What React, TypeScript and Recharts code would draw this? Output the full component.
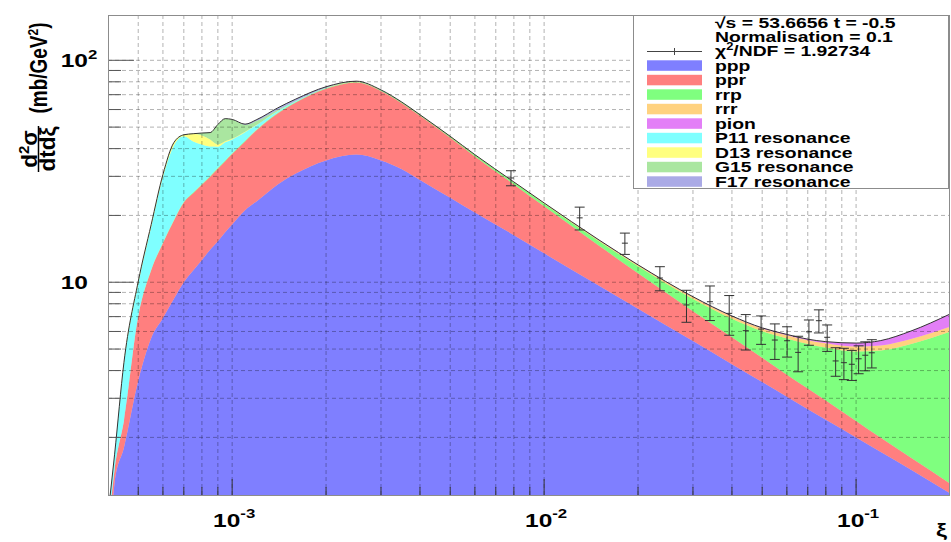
import {
  Area,
  ComposedChart,
  ErrorBar,
  Line,
  Scatter,
  XAxis,
  YAxis,
} from "recharts";

// Model components, sampled in xi (d2sigma/dtdxi, mb/GeV^2)
const XI = [
  0.000405, 0.00042, 0.00045, 0.0005, 0.00055, 0.0006, 0.00065, 0.0007, 0.00075, 0.0008,
  0.00085, 0.0009, 0.00095, 0.001, 0.0011, 0.0012, 0.0014, 0.0016, 0.002, 0.0025,
  0.003, 0.0035, 0.004, 0.005, 0.006, 0.008, 0.01, 0.015, 0.02, 0.03,
  0.04, 0.05, 0.06, 0.07, 0.08, 0.1, 0.12, 0.15, 0.2,
];
const PPP = [
  0.6, 1.25, 1.8, 3.6, 5.6, 6.9, 8.4, 10.0, 11.3, 12.6,
  14.0, 15.3, 16.8, 18.2, 21.1, 23.2, 27.6, 30.9, 35.4, 37.6,
  35.4, 32.3, 28.9, 24.0, 20.6, 16.3, 13.5, 9.65, 7.6, 5.43,
  4.27, 3.55, 3.05, 2.68, 2.4, 2.0, 1.72, 1.43, 1.12,
];
const PPR = [
  0.3, 0.18, 0.58, 3.4, 5.7, 8.1, 10.5, 12.9, 13.9, 14.9,
  15.9, 17.2, 18.3, 19.6, 22.0, 25.3, 30.0, 33.6, 39.0, 41.9,
  37.4, 31.8, 27.3, 20.8, 16.3, 11.3, 8.5, 4.95, 3.38, 1.98,
  1.38, 1.02, 0.78, 0.64, 0.53, 0.37, 0.27, 0.19, 0.12,
];
const RRP = [
  0, 0, 0, 0.02, 0.05, 0.08, 0.1, 0.12, 0.14, 0.16,
  0.18, 0.2, 0.22, 0.24, 0.27, 0.3, 0.33, 0.36, 0.4, 0.42,
  0.44, 0.46, 0.48, 0.5, 0.52, 0.55, 0.6, 0.72, 0.82, 1.0,
  1.2, 1.45, 1.75, 1.95, 2.15, 2.5, 2.93, 3.65, 4.74,
];
const RRR = [
  0, 0, 0, 0.01, 0.02, 0.03, 0.04, 0.05, 0.05, 0.06,
  0.06, 0.07, 0.07, 0.08, 0.08, 0.09, 0.1, 0.1, 0.1, 0.1,
  0.11, 0.11, 0.12, 0.12, 0.13, 0.13, 0.14, 0.15, 0.15, 0.16,
  0.16, 0.17, 0.19, 0.21, 0.23, 0.26, 0.27, 0.28, 0.32,
];
const PION = [
  0, 0, 0, 0, 0, 0, 0, 0, 0, 0,
  0, 0, 0, 0, 0, 0, 0, 0, 0, 0,
  0, 0.01, 0.01, 0.015, 0.02, 0.02, 0.025, 0.03, 0.03, 0.035,
  0.04, 0.04, 0.05, 0.06, 0.09, 0.19, 0.27, 0.48, 0.89,
];
const P11 = [
  0.15, 0.25, 1.88, 2.8, 6.3, 14.7, 22.2, 22.4, 17.7, 14.0,
  10.7, 8.0, 7.3, 5.9, 4.0, 2.2, 0.9, 0.4, 0.2, 0.1,
  0.05, 0, 0, 0, 0, 0, 0, 0, 0, 0,
  0, 0, 0, 0, 0, 0, 0, 0, 0,
];
const D13 = [
  0, 0, 0.1, 0.25, 0.5, 0.8, 1.3, 0.7, 3.6, 4.1,
  3.1, 1.0, 0.5, 0.3, 0.2, 0.1, 0.1, 0.05, 0, 0,
  0, 0, 0, 0, 0, 0, 0, 0, 0, 0,
  0, 0, 0, 0, 0, 0, 0, 0, 0,
];
const G15 = [
  0, 0, 0, 0, 0, 0, 0, 0, 0, 1.2,
  3.3, 9.6, 11.4, 9.8, 3.6, 2.2, 0.9, 0.4, 0.2, 0.1,
  0, 0, 0, 0, 0, 0, 0, 0, 0, 0,
  0, 0, 0, 0, 0, 0, 0, 0, 0,
];
const F17 = [
  0, 0, 0, 0, 0, 0, 0, 0, 0, 0,
  0, 0, 0, 0.05, 0.3, 0.7, 1.1, 1.1, 0.7, 0.3,
  0.15, 0.1, 0.05, 0, 0, 0, 0, 0, 0, 0,
  0, 0, 0, 0, 0, 0, 0, 0, 0,
];

// Measured points with statistical errors
const DATA_XI = [
  0.00783, 0.013, 0.01815, 0.0235, 0.0286, 0.034, 0.0392, 0.0443, 0.0496, 0.0549,
  0.0601, 0.0652, 0.0706, 0.076, 0.0808, 0.086, 0.0914, 0.0969, 0.1019, 0.107, 0.1123,
];
const DATA_SIGMA = [
  29.5, 19.5, 15.0, 10.45, 7.9, 8.17, 7.24, 6.05, 6.15, 5.49,
  5.45, 4.83, 5.98, 6.71, 5.65, 4.42, 4.34, 4.27, 4.52, 4.69, 4.81,
];
const DATA_ERR = [
  2.3, 2.3, 1.65, 1.3, 1.3, 1.45, 1.47, 1.1, 0.9, 1.0,
  0.85, 0.88, 0.78, 0.8, 0.77, 0.65, 0.7, 0.66, 0.65, 0.7, 0.7,
];

const X_TICKS = [
  0.0005, 0.0006, 0.0007, 0.0008, 0.0009, 0.001,
  0.002, 0.003, 0.004, 0.005, 0.006, 0.007, 0.008, 0.009, 0.01,
  0.02, 0.03, 0.04, 0.05, 0.06, 0.07, 0.08, 0.09, 0.1,
];
const Y_TICKS = [2, 3, 4, 5, 6, 7, 8, 9, 10, 20, 30, 40, 50, 60, 70, 80, 90, 100];

const SERIES_KEYS = ["ppp", "ppr", "rrp", "rrr", "pion", "p11", "d13", "g15", "f17"];
const SERIES_NAMES = [
  "ppp", "ppr", "rrp", "rrr", "pion",
  "P11 resonance", "D13 resonance", "G15 resonance", "F17 resonance",
];
// base colours, filled at half opacity
const SERIES_COLORS = [
  "#0000ff", "#ff0000", "#00ff00", "#ffa500", "#c800f0",
  "#00ffff", "#ffff00", "#55cd41", "#5555cd",
];
const SERIES_VALUES = [PPP, PPR, RRP, RRR, PION, P11, D13, G15, F17];

const W = 951;
const H = 542;
const PLOT_LEFT = 108;
const PLOT_TOP = 15;
const PLOT_RIGHT = 950;
const PLOT_BOTTOM = 495;
const X_DOMAIN = [0.0004, 0.2];
const Y_DOMAIN = [1.1, 160];
const FONT = "'Liberation Sans', Arial, Helvetica, sans-serif";
const STRETCH = 1.29;
const FILL_ALPHA = 0.5;
const FLOOR = 0.1; // below the y range, the lowest band starts here and is clipped
const GRID = { stroke: "#000", strokeOpacity: 0.3, strokeDasharray: "4 3" };

// each band is drawn as a [low, high] range on top of the ones below it
const rows = XI.map((xi, i) => {
  const row: Record<string, number | number[]> = { xi };
  let acc = 0;
  SERIES_KEYS.forEach((key, s) => {
    const v = SERIES_VALUES[s][i];
    row[key] = [s === 0 ? FLOOR : acc, acc + v];
    acc += v;
  });
  row.total = acc;
  return row;
});

const points = DATA_XI.map((xi, i) => ({ xi, sigma: DATA_SIGMA[i], err: DATA_ERR[i] }));

function decade(v: number): number | null {
  const e = Math.log10(v);
  const r = Math.round(e);
  return Math.abs(e - r) < 1e-6 ? r : null;
}

// frame geometry for the grid overlay, same log mapping as the axes
function gridX(v: number): number {
  const [a, b] = X_DOMAIN.map(Math.log10);
  return PLOT_LEFT + ((Math.log10(v) - a) / (b - a)) * (PLOT_RIGHT - PLOT_LEFT);
}
function gridY(v: number): number {
  const [a, b] = Y_DOMAIN.map(Math.log10);
  return PLOT_BOTTOM - ((Math.log10(v) - a) / (b - a)) * (PLOT_BOTTOM - PLOT_TOP);
}

function XTick(props: any) {
  const { x, payload } = props;
  const exp = decade(payload.value);
  if (exp === null) return <g />;
  return (
    <text
      transform={`translate(${x + 2} 527) scale(${STRETCH} 1)`}
      textAnchor="middle"
      fontFamily={FONT}
      fontWeight="bold"
      fill="#000"
    >
      <tspan fontSize={19}>10</tspan>
      <tspan fontSize={13} dy={-9}>
        {exp}
      </tspan>
    </text>
  );
}

function YTick(props: any) {
  const { y, payload } = props;
  const exp = decade(payload.value);
  if (exp === null) return <g />;
  return (
    <g fontFamily={FONT} fontWeight="bold" fill="#000">
      <text transform={`translate(88 ${y + 7}) scale(${STRETCH} 1)`} textAnchor="end" fontSize={19}>
        10
      </text>
      {exp > 1 && (
        <text transform={`translate(88 ${y - 1}) scale(${STRETCH} 1)`} fontSize={13}>
          {exp}
        </text>
      )}
    </g>
  );
}

function DataMarker(props: any) {
  const { cx, cy } = props;
  return <line x1={cx - 3} x2={cx + 3} y1={cy} y2={cy} stroke="#333" strokeWidth={1} />;
}

function Overlay() {
  const rowY = (i: number) => 65.3 + i * 14.5;
  return (
    <svg
      width={W}
      height={H}
      style={{ position: "absolute", left: 0, top: 0, pointerEvents: "none" }}
    >
      {/* grid and tick marks, drawn over the filled bands */}
      {X_TICKS.map((v) => {
        const x = gridX(v);
        const major = decade(v) !== null;
        return (
          <g key={`gx${v}`}>
            <line x1={x} x2={x} y1={PLOT_TOP} y2={PLOT_BOTTOM} {...GRID} />
            <line x1={x} x2={x} y1={PLOT_BOTTOM} y2={PLOT_BOTTOM - (major ? 16 : 8)} stroke="#333" />
          </g>
        );
      })}
      {Y_TICKS.map((v) => {
        const y = gridY(v);
        const major = decade(v) !== null;
        return (
          <g key={`gy${v}`}>
            <line x1={PLOT_LEFT} x2={PLOT_RIGHT} y1={y} y2={y} {...GRID} />
            <line x1={PLOT_LEFT} x2={PLOT_LEFT + (major ? 26 : 13)} y1={y} y2={y} stroke="#555" />
          </g>
        );
      })}
      <rect
        x={PLOT_LEFT + 0.5}
        y={PLOT_TOP + 0.5}
        width={PLOT_RIGHT - PLOT_LEFT - 1}
        height={PLOT_BOTTOM - PLOT_TOP}
        fill="none"
        stroke="#8c8c8c"
      />
      <g fontFamily={FONT} fontWeight="bold" fill="#000">
        {/* legend box */}
        <rect x={633.5} y={15.5} width={315} height={173} fill="#fff" stroke="#8c8c8c" />
        <text transform={`translate(715 28.3) scale(${STRETCH} 1)`} fontSize={15}>
          √s = 53.6656 t = -0.5
        </text>
        <text transform={`translate(715 41.7) scale(${STRETCH} 1)`} fontSize={15}>
          Normalisation = 0.1
        </text>
        <text transform={`translate(715 56) scale(${STRETCH} 1)`} fontSize={15}>
          χ<tspan fontSize={10} dy={-6}>2</tspan>
          <tspan dy={6}>/NDF = 1.92734</tspan>
        </text>
        <line x1={647} x2={702} y1={51.5} y2={51.5} stroke="#444" />
        <line x1={674.5} x2={674.5} y1={48} y2={55} stroke="#444" />
        {SERIES_NAMES.map((name, i) => (
          <g key={name}>
            <rect
              x={647}
              y={rowY(i) - 5}
              width={55}
              height={10.5}
              fill={SERIES_COLORS[i]}
              fillOpacity={FILL_ALPHA}
            />
            <text transform={`translate(715 ${rowY(i) + 5.3}) scale(${STRETCH} 1)`} fontSize={15}>
              {name}
            </text>
          </g>
        ))}

        {/* y title: d2sigma / dt dxi (mb/GeV^2) */}
        <text
          transform={`translate(47 68) scale(${STRETCH} 1) rotate(-90)`}
          textAnchor="middle"
          fontSize={19}
        >
          (mb/GeV<tspan fontSize={12} dy={-7}>2</tspan>
          <tspan dy={7}>)</tspan>
        </text>
        <text
          transform="translate(37 149) scale(1.2 1.25) rotate(-90)"
          textAnchor="middle"
          fontSize={18}
        >
          d<tspan fontSize={12} dy={-7}>2</tspan>
          <tspan dy={7}>σ</tspan>
        </text>
        <line x1={38.5} x2={38.5} y1={126} y2={172} stroke="#000" strokeWidth={1.5} />
        <text
          transform="translate(55 149) scale(1.2 1.25) rotate(-90)"
          textAnchor="middle"
          fontSize={18}
        >
          dtdξ
        </text>

        {/* x title */}
        <text transform={`translate(936 536) scale(${STRETCH} 1)`} fontSize={19}>
          ξ
        </text>
      </g>
    </svg>
  );
}

export default function App() {
  return (
    <div style={{ position: "absolute", left: 0, top: 0, width: W, height: H, background: "#fff" }}>
      <ComposedChart
        width={W}
        height={H}
        data={rows}
        margin={{ top: PLOT_TOP, right: W - PLOT_RIGHT, bottom: 0, left: 0 }}
      >
        <XAxis
          dataKey="xi"
          type="number"
          scale="log"
          domain={X_DOMAIN}
          allowDataOverflow
          ticks={X_TICKS}
          interval={0}
          tick={(p: any) => <XTick {...p} />}
          tickLine={false}
          axisLine={false}
          height={H - PLOT_BOTTOM}
        />
        <YAxis
          type="number"
          scale="log"
          domain={Y_DOMAIN}
          allowDataOverflow
          ticks={Y_TICKS}
          interval={0}
          tick={(p: any) => <YTick {...p} />}
          tickLine={false}
          axisLine={false}
          width={PLOT_LEFT}
        />
        {SERIES_KEYS.map((key, i) => (
          <Area
            key={key}
            dataKey={key}
            type="monotone"
            stroke="none"
            fill={SERIES_COLORS[i]}
            fillOpacity={FILL_ALPHA}
            isAnimationActive={false}
            dot={false}
            activeDot={false}
          />
        ))}
        <Line
          dataKey="total"
          type="monotone"
          stroke="#333"
          strokeWidth={1}
          dot={false}
          activeDot={false}
          isAnimationActive={false}
        />
        <Scatter
          data={points}
          dataKey="sigma"
          shape={(p: any) => <DataMarker {...p} />}
          isAnimationActive={false}
        >
          <ErrorBar dataKey="err" direction="y" width={5} stroke="#333" strokeWidth={1} />
        </Scatter>
      </ComposedChart>
      <Overlay />
    </div>
  );
}
